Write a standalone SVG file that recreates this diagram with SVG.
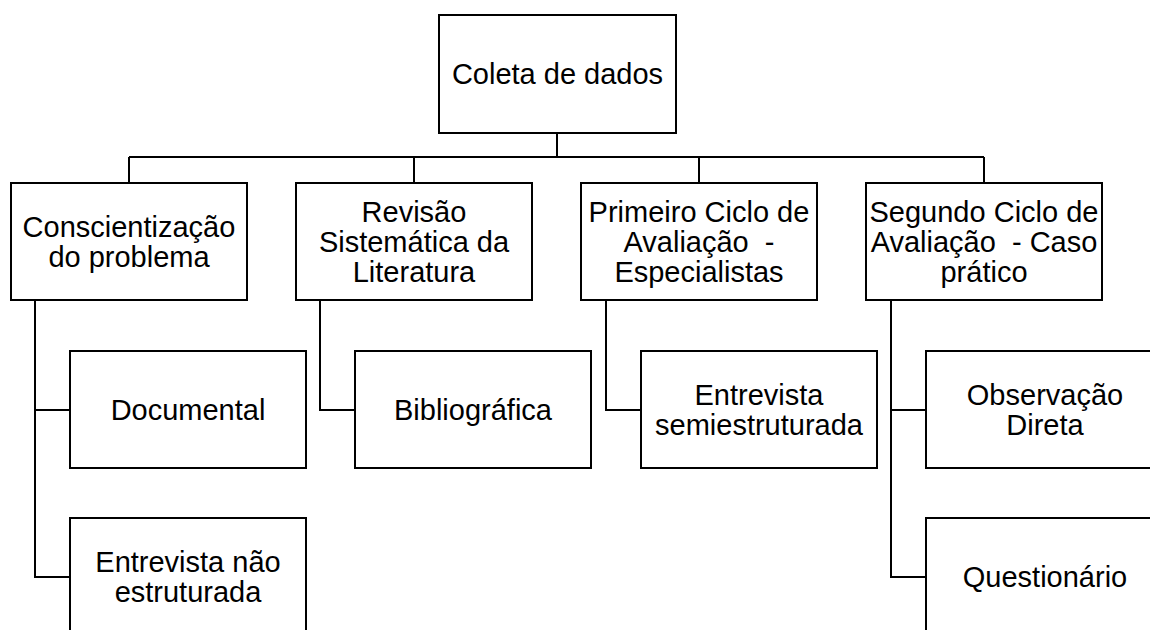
<svg xmlns="http://www.w3.org/2000/svg" width="1150" height="630" viewBox="0 0 1150 630">
<style>
.box{fill:#fff;stroke:#000;stroke-width:2}
.ln{fill:none;stroke:#000;stroke-width:2}
text{font-family:"Liberation Sans",Arial,sans-serif;font-size:29px;fill:#000;text-anchor:middle}
</style>
<rect width="1150" height="630" fill="#fff"/>
<g id="connectors">
<path class="ln" d="M557,133 V157 M129,157 H984 M129,157 V183 M414,157 V183 M699,157 V183 M984,157 V183"/>
<path class="ln" d="M35,300 V577 H70 M35,410 H70"/>
<path class="ln" d="M320,300 V410 H355"/>
<path class="ln" d="M606,300 V410 H641"/>
<path class="ln" d="M891,300 V577 H926 M891,410 H926"/>
</g>
<g id="n-coleta"><rect class="box" x="439" y="15" width="237" height="118"/><text x="557.5" y="84">Coleta de dados</text></g>
<g id="n-consc"><rect class="box" x="11" y="183" width="236" height="117"/><text x="129" y="236.5">Conscientização</text><text x="129" y="266.5">do problema</text></g>
<g id="n-revisao"><rect class="box" x="296" y="183" width="236" height="117"/><text x="414" y="222">Revisão</text><text x="414" y="252">Sistemática da</text><text x="414" y="282">Literatura</text></g>
<g id="n-primeiro"><rect class="box" x="581" y="183" width="236" height="117"/><text x="699" y="222">Primeiro Ciclo de</text><text x="699" y="252" style="white-space:pre">Avaliação  -</text><text x="699" y="282">Especialistas</text></g>
<g id="n-segundo"><rect class="box" x="866" y="183" width="236" height="117"/><text x="984" y="222">Segundo Ciclo de</text><text x="984" y="252" style="white-space:pre">Avaliação  - Caso</text><text x="984" y="282">prático</text></g>
<g id="n-documental"><rect class="box" x="70" y="351" width="236" height="117"/><text x="188" y="420">Documental</text></g>
<g id="n-entrevista-nao"><rect class="box" x="70" y="518" width="236" height="117"/><text x="188" y="571.5">Entrevista não</text><text x="188" y="601.5">estruturada</text></g>
<g id="n-biblio"><rect class="box" x="355" y="351" width="236" height="117"/><text x="473" y="420">Bibliográfica</text></g>
<g id="n-entrevista-semi"><rect class="box" x="641" y="351" width="236" height="117"/><text x="759" y="404.5">Entrevista</text><text x="759" y="434.5">semiestruturada</text></g>
<g id="n-observacao"><rect class="box" x="926" y="351" width="238" height="117"/><text x="1045" y="404.5">Observação</text><text x="1045" y="434.5">Direta</text></g>
<g id="n-questionario"><rect class="box" x="926" y="518" width="238" height="117"/><text x="1045" y="586.5">Questionário</text></g>
</svg>
